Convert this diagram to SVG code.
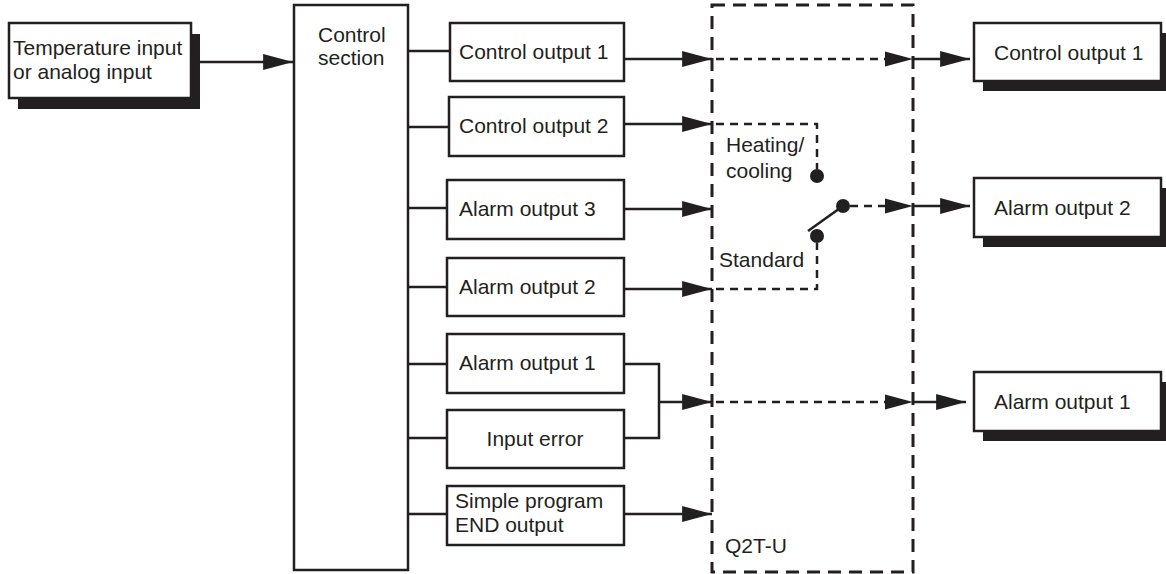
<svg xmlns="http://www.w3.org/2000/svg" width="1166" height="574" viewBox="0 0 1166 574">
<defs>
<marker id="ah" markerUnits="userSpaceOnUse" markerWidth="30" markerHeight="16" viewBox="0 0 28 15" refX="28" refY="7.5" orient="auto">
<path d="M0,0 L28,7.5 L0,15 Z" fill="#231f20"/>
</marker>
<style>
text{font-family:"Liberation Sans",Arial,sans-serif;font-size:21px;fill:#231f20}
.box{fill:#fff;stroke:#231f20;stroke-width:2.5}
.sh{fill:#231f20}
.ln{fill:none;stroke:#231f20;stroke-width:2.5}
.dl{fill:none;stroke:#231f20;stroke-width:2.5;stroke-dasharray:8 6}
.ob{fill:none;stroke:#231f20;stroke-width:3;stroke-dasharray:13 8}
.dot{fill:#231f20}
</style>
</defs>
<rect width="1166" height="574" fill="#fff"/>

<g id="q2tu">
<rect class="ob" x="712" y="5" width="201" height="567"/>
<text x="725" y="553">Q2T-U</text>
</g>

<g id="input">
<rect class="sh" x="18" y="34" width="182" height="75"/>
<rect class="box" x="9" y="23" width="182" height="75"/>
<text x="13" y="55">Temperature input</text>
<text x="13" y="79">or analog input</text>
</g>

<g id="control-section">
<rect class="box" x="294" y="5" width="114" height="565"/>
<text x="318" y="42">Control</text>
<text x="318" y="65">section</text>
</g>

<g id="m-co1"><rect class="box" x="450" y="23" width="174" height="58"/><text x="459" y="59">Control output 1</text></g>
<g id="m-co2"><rect class="box" x="449" y="97" width="175" height="59"/><text x="459" y="133">Control output 2</text></g>
<g id="m-ao3"><rect class="box" x="447" y="180" width="177" height="59"/><text x="459" y="216">Alarm output 3</text></g>
<g id="m-ao2"><rect class="box" x="447" y="258" width="177" height="58"/><text x="459" y="294">Alarm output 2</text></g>
<g id="m-ao1"><rect class="box" x="447" y="334" width="177" height="59"/><text x="459" y="370">Alarm output 1</text></g>
<g id="m-ie"><rect class="box" x="447" y="410" width="177" height="58"/><text x="535" y="446" text-anchor="middle">Input error</text></g>
<g id="m-sp"><rect class="box" x="447" y="486" width="177" height="59"/><text x="455" y="508">Simple program</text><text x="455" y="532">END output</text></g>

<g id="switch">
<text x="726" y="152">Heating/</text>
<text x="726" y="178">cooling</text>
<text x="719" y="267">Standard</text>
<circle class="dot" cx="817" cy="176" r="7"/>
<circle class="dot" cx="817" cy="236" r="7"/>
<circle class="dot" cx="843" cy="206" r="7"/>
<line class="ln" x1="808" y1="231" x2="843" y2="206"/>
</g>

<g id="r-co1"><rect class="sh" x="983" y="33" width="183" height="58"/><rect class="box" x="974" y="23" width="187" height="58"/><text x="994" y="60">Control output 1</text></g>
<g id="r-ao2"><rect class="sh" x="983" y="188" width="183" height="59"/><rect class="box" x="974" y="178" width="187" height="59"/><text x="994" y="215">Alarm output 2</text></g>
<g id="r-ao1"><rect class="sh" x="983" y="382" width="183" height="59"/><rect class="box" x="974" y="372" width="187" height="59"/><text x="994" y="409">Alarm output 1</text></g>

<g id="connectors">
<line class="ln" x1="191" y1="62" x2="293" y2="62" marker-end="url(#ah)"/>
<line class="ln" x1="408" y1="51" x2="450" y2="51"/>
<line class="ln" x1="408" y1="127" x2="449" y2="127"/>
<line class="ln" x1="408" y1="208" x2="447" y2="208"/>
<line class="ln" x1="408" y1="287" x2="447" y2="287"/>
<line class="ln" x1="408" y1="364" x2="447" y2="364"/>
<line class="ln" x1="408" y1="438" x2="447" y2="438"/>
<line class="ln" x1="408" y1="514" x2="447" y2="514"/>

<line class="ln" x1="624" y1="59" x2="712" y2="59" marker-end="url(#ah)"/>
<line class="ln" x1="624" y1="124" x2="712" y2="124" marker-end="url(#ah)"/>
<line class="ln" x1="624" y1="209" x2="712" y2="209" marker-end="url(#ah)"/>
<line class="ln" x1="624" y1="289" x2="712" y2="289" marker-end="url(#ah)"/>
<polyline class="ln" points="624,364 659,364 659,438 624,438"/>
<line class="ln" x1="659" y1="402" x2="712" y2="402" marker-end="url(#ah)"/>
<line class="ln" x1="624" y1="514" x2="712" y2="514" marker-end="url(#ah)"/>

<line class="dl" x1="716" y1="59" x2="890" y2="59"/>
<path d="M885,51.5 L913,59 L885,66.5 Z" fill="#231f20"/>
<line class="dl" x1="716" y1="402" x2="890" y2="402"/>
<path d="M885,394.5 L913,402 L885,409.5 Z" fill="#231f20"/>
<line class="dl" x1="850" y1="206" x2="890" y2="206"/>
<path d="M885,198.5 L913,206 L885,213.5 Z" fill="#231f20"/>

<polyline class="dl" points="716,124 817,124 817,169"/>
<polyline class="dl" points="716,289 817,289 817,243"/>

<line class="ln" x1="913" y1="59" x2="970" y2="59" marker-end="url(#ah)"/>
<line class="ln" x1="913" y1="206" x2="970" y2="206" marker-end="url(#ah)"/>
<line class="ln" x1="913" y1="402" x2="966" y2="402" marker-end="url(#ah)"/>
</g>
</svg>
